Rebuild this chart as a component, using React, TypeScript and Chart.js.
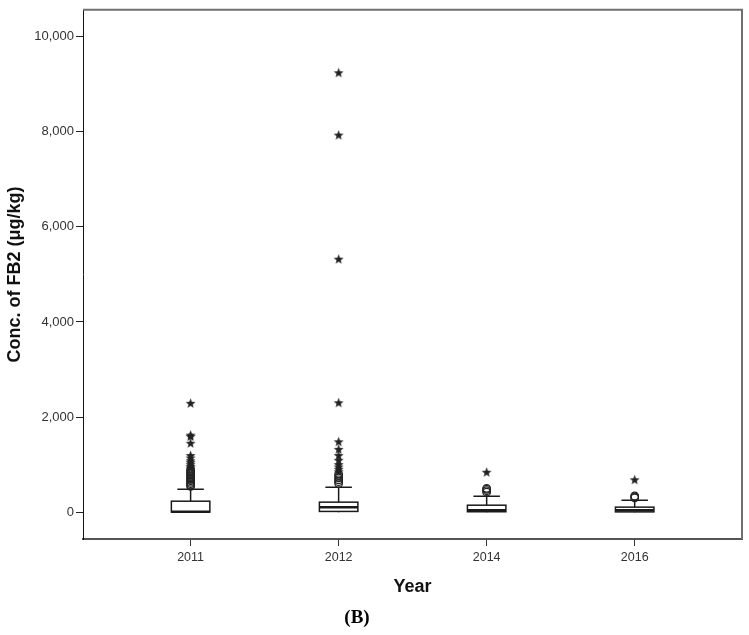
import React, { useEffect, useRef } from 'react';
import { Chart, registerables } from 'chart.js';

Chart.register(...registerables);

// ---- data ----
const years = ['2011', '2012', '2014', '2016'];
const q1 = [2, 15, 8, 5];
const medians = [10, 105, 42, 42];
const q3 = [230, 210, 146, 105];
const whiskerLow = [0, 0, 0, 0];
const whiskerHigh = [480, 523, 335, 250];

// mild outliers (circles) per year
const circles2011 = [540, 570, 600, 630, 660, 690, 720, 750, 780, 810, 840, 870, 900];
const circles2012 = [600, 640, 680, 720, 760, 800];
const circles2014 = [420, 450, 480, 500];
const circles2016 = [300, 320, 340];

// extreme outliers (stars) per year
const stars2011 = [2290, 1620, 1590, 1450, 1190, 1140, 1080, 1040, 1000, 960, 930];
const stars2012 = [9240, 7930, 5320, 2300, 1480, 1320, 1190, 1090, 1000, 950, 900, 850];
const stars2014 = [840];
const stars2016 = [680];

const yTicks = [0, 2000, 4000, 6000, 8000, 10000];
const yMin = -565;
const yMax = 10565;
const xMin = -0.727;
const xMax = 3.725;

const circleSets = [circles2011, circles2012, circles2014, circles2016];
const starSets = [stars2011, stars2012, stars2014, stars2016];

const FONT = 'Liberation Sans, Arial, Helvetica, sans-serif';

function makeStar(): HTMLCanvasElement {
  const c = document.createElement('canvas');
  c.width = 11;
  c.height = 11;
  const g = c.getContext('2d')!;
  g.fillStyle = '#222';
  g.beginPath();
  const cx = 5.5, cy = 5.8, ro = 5.2, ri = 2.2;
  for (let k = 0; k < 10; k++) {
    const r = k % 2 === 0 ? ro : ri;
    const a = -Math.PI / 2 + (k * Math.PI) / 5;
    const px = cx + r * Math.cos(a);
    const py = cy + r * Math.sin(a);
    if (k === 0) g.moveTo(px, py);
    else g.lineTo(px, py);
  }
  g.closePath();
  g.fill();
  return c;
}

const boxPlugin = {
  id: 'boxPlot',
  beforeDatasetsDraw(chart: any) {
    const { ctx, scales } = chart;
    const x = scales.x;
    const y = scales.y;
    const unit = x.getPixelForValue(1) - x.getPixelForValue(0);
    const bw = unit * 0.26;
    const cw = unit * 0.125;
    ctx.save();
    ctx.strokeStyle = '#1a1a1a';
    years.forEach((_, i) => {
      const cx = x.getPixelForValue(i);
      const yq1 = y.getPixelForValue(q1[i]);
      const yq3 = y.getPixelForValue(q3[i]);
      const ymed = y.getPixelForValue(medians[i]);
      const yhi = y.getPixelForValue(whiskerHigh[i]);
      const ylo = y.getPixelForValue(whiskerLow[i]);
      // whiskers
      ctx.lineWidth = 1.5;
      ctx.beginPath();
      ctx.moveTo(cx, yq3);
      ctx.lineTo(cx, yhi);
      ctx.moveTo(cx - cw / 2 - 4, yhi);
      ctx.lineTo(cx + cw / 2 + 4, yhi);
      ctx.moveTo(cx, yq1);
      ctx.lineTo(cx, ylo);
      ctx.stroke();
      // box
      ctx.fillStyle = '#ffffff';
      ctx.fillRect(cx - bw / 2, yq3, bw, yq1 - yq3);
      ctx.lineWidth = 1.5;
      ctx.strokeRect(cx - bw / 2, yq3, bw, yq1 - yq3);
      // median
      ctx.lineWidth = 2.5;
      ctx.beginPath();
      ctx.moveTo(cx - bw / 2, ymed);
      ctx.lineTo(cx + bw / 2, ymed);
      ctx.stroke();
    });
    ctx.restore();
  },
  afterDraw(chart: any) {
    const { ctx, chartArea } = chart;
    ctx.save();
    ctx.strokeStyle = '#707070';
    ctx.lineWidth = 2;
    ctx.beginPath();
    ctx.moveTo(chartArea.left, chartArea.top);
    ctx.lineTo(chartArea.right, chartArea.top);
    ctx.lineTo(chartArea.right, chartArea.bottom);
    ctx.stroke();
    ctx.fillStyle = '#000';
    ctx.font = 'bold 19px Liberation Serif, Times New Roman, serif';
    ctx.textAlign = 'center';
    ctx.textBaseline = 'middle';
    ctx.fillText('(B)', 357, 618);
    ctx.restore();
  },
};

export default function App() {
  const ref = useRef<HTMLCanvasElement | null>(null);

  useEffect(() => {
    if (!ref.current) return;
    const star = makeStar();
    const starData = starSets.flatMap((arr, i) => arr.map((v) => ({ x: i, y: v })));
    const circleData = circleSets.flatMap((arr, i) => arr.map((v) => ({ x: i, y: v })));

    const chart = new Chart(ref.current, {
      type: 'scatter',
      data: {
        datasets: [
          {
            label: 'Outliers',
            data: circleData,
            pointStyle: 'circle',
            pointRadius: 3.8,
            borderColor: '#222',
            borderWidth: 1.2,
            backgroundColor: 'rgba(255,255,255,0)',
          },
          {
            label: 'Extremes',
            data: starData,
            pointStyle: star as any,
            pointRadius: 5,
            borderColor: '#222',
            backgroundColor: '#222',
          },
        ],
      },
      options: {
        animation: false,
        responsive: false,
        events: [],
        layout: { padding: { left: 0, top: 7, right: 7, bottom: 0 } },
        plugins: {
          legend: { display: false },
          tooltip: { enabled: false },
        },
        scales: {
          x: {
            type: 'linear',
            min: xMin,
            max: xMax,
            afterBuildTicks: (s: any) => {
              s.ticks = years.map((_, i) => ({ value: i }));
            },
            afterFit: (s: any) => {
              s.height = 96;
            },
            ticks: {
              callback: (v: any) => years[Math.round(Number(v))] ?? '',
              font: { family: FONT, size: 12.5 },
              color: '#333',
              padding: 4,
              maxRotation: 0,
            },
            grid: { drawOnChartArea: false, tickLength: 7, color: '#333', lineWidth: 1 },
            border: { display: true, color: '#555', width: 2 },
            title: {
              display: true,
              text: 'Year',
              font: { family: FONT, size: 18, weight: 'bold' },
              color: '#111',
              padding: { top: 0, bottom: 37 },
            },
          },
          y: {
            type: 'linear',
            min: yMin,
            max: yMax,
            afterBuildTicks: (s: any) => {
              s.ticks = yTicks.map((v) => ({ value: v }));
            },
            afterFit: (s: any) => {
              s.width = 83;
            },
            ticks: {
              callback: (v: any) => Number(v).toLocaleString('en-US'),
              font: { family: FONT, size: 13 },
              color: '#333',
              padding: 2,
            },
            grid: { drawOnChartArea: false, tickLength: 7, color: '#222', lineWidth: 1 },
            border: { display: true, color: '#111', width: 1 },
            title: {
              display: true,
              text: 'Conc. of FB2 (μg/kg)',
              font: { family: FONT, size: 18, weight: 'bold' },
              color: '#111',
              padding: { top: 4, bottom: 0 },
            },
          },
        },
      },
      plugins: [boxPlugin],
    });
    return () => chart.destroy();
  }, []);

  return (
    <div style={{ position: 'absolute', left: 0, top: 0, width: 749, height: 635, background: '#fff' }}>
      <canvas ref={ref} width={749} height={635} />
    </div>
  );
}
